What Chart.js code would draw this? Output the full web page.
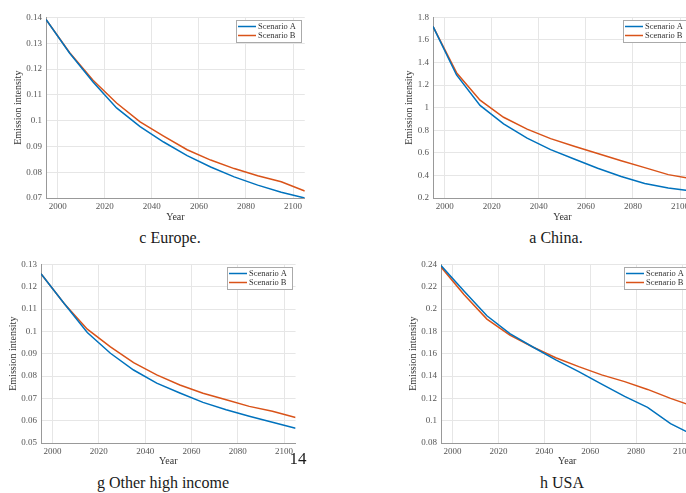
<!DOCTYPE html>
<html>
<head>
<meta charset="utf-8">
<script src="https://cdn.jsdelivr.net/npm/chart.js@4/dist/chart.umd.min.js"></script>
<style>
  html, body { margin: 0; padding: 0; background: #fff; }
  body { width: 686px; height: 493px; overflow: hidden; position: relative; }
  canvas { position: absolute; }
  .cap { position: absolute; font-family: "Liberation Serif", serif; font-size: 16px; color: #1a1a1a;
         transform: translate(-50%, -50%); white-space: nowrap; }
</style>
</head>
<body>
<canvas id="europe"></canvas>
<canvas id="china"></canvas>
<canvas id="other"></canvas>
<canvas id="usa"></canvas>
<div class="cap" style="left:170px;top:238px">c Europe.</div>
<div class="cap" style="left:556px;top:238px">a China.</div>
<div class="cap" style="left:163px;top:483px">g Other high income</div>
<div class="cap" style="left:562px;top:483px">h USA</div>
<div class="cap" style="left:298px;top:459px;font-size:17px">14</div>
<script>
/* data */
const years = [1995, 2005, 2015, 2025, 2035, 2045, 2055, 2065, 2075, 2085, 2095, 2105];
const seriesNames = ['Scenario A', 'Scenario B'];
const yearTicks = [2000, 2020, 2040, 2060, 2080, 2100];

const europeA = [0.1392, 0.1262, 0.1150, 0.1049, 0.0977, 0.0917, 0.0864, 0.0820, 0.0782, 0.0750, 0.0722, 0.0700];
const europeB = [0.1392, 0.1264, 0.1156, 0.1068, 0.0995, 0.0940, 0.0887, 0.0847, 0.0814, 0.0786, 0.0763, 0.0727];
const europeTicks = [0.07, 0.08, 0.09, 0.10, 0.11, 0.12, 0.13, 0.14];

const chinaA = [1.72, 1.29, 1.02, 0.857, 0.731, 0.629, 0.545, 0.463, 0.39, 0.329, 0.288, 0.262];
const chinaB = [1.72, 1.31, 1.067, 0.915, 0.81, 0.726, 0.658, 0.594, 0.53, 0.469, 0.407, 0.37];
const chinaTicks = [0.2, 0.4, 0.6, 0.8, 1.0, 1.2, 1.4, 1.6, 1.8];

const otherA = [0.1258, 0.1125, 0.0995, 0.0902, 0.0827, 0.0768, 0.0724, 0.0682, 0.0649, 0.0620, 0.0593, 0.0566];
const otherB = [0.1258, 0.1125, 0.1010, 0.0931, 0.0860, 0.0805, 0.0760, 0.0723, 0.0694, 0.0664, 0.0642, 0.0614];
const otherTicks = [0.05, 0.06, 0.07, 0.08, 0.09, 0.10, 0.11, 0.12, 0.13];

const usaA = [0.2390, 0.2162, 0.1940, 0.1780, 0.1660, 0.1544, 0.1440, 0.1327, 0.1217, 0.1120, 0.0973, 0.0870];
const usaB = [0.2377, 0.2130, 0.1910, 0.1766, 0.1660, 0.1564, 0.1484, 0.1410, 0.1350, 0.1280, 0.1200, 0.1128];
const usaTicks = [0.08, 0.10, 0.12, 0.14, 0.16, 0.18, 0.20, 0.22, 0.24];

const colA = '#0072BD', colB = '#D95319';
const serif = '"Liberation Serif", serif';

/* legend box in the top right corner of the plot */
const boxLegend = {
  id: 'boxLegend',
  afterDatasetsDraw(chart) {
    const { ctx, chartArea } = chart;
    const w = 65, h = 22;
    const x = Math.round(chartArea.right - 4 - w), y = Math.round(chartArea.top + 3);
    ctx.save();
    ctx.fillStyle = '#fff';
    ctx.fillRect(x, y, w, h);
    ctx.strokeStyle = '#aaa';
    ctx.lineWidth = 1;
    ctx.strokeRect(x + 0.5, y + 0.5, w, h);
    chart.data.datasets.forEach((ds, i) => {
      const ly = y + 6.5 + i * 9;
      ctx.strokeStyle = ds.borderColor;
      ctx.lineWidth = 1.5;
      ctx.beginPath(); ctx.moveTo(x + 2, ly); ctx.lineTo(x + 20, ly); ctx.stroke();
      ctx.fillStyle = '#333';
      ctx.font = '8.5px ' + serif;
      ctx.textBaseline = 'middle';
      ctx.fillText(ds.label, x + 22, ly + 0.5);
    });
    ctx.restore();
  }
};

function fmt(v) { return String(Number(v.toFixed(3))); }

function makePanel(id, p) {
  const cv = document.getElementById(id);
  const padTop = 8, xH = 28;
  cv.width = p.R - p.left;
  cv.height = padTop + (p.B - p.T) + xH;
  cv.style.left = p.left + 'px';
  cv.style.top = (p.T - padTop) + 'px';
  new Chart(cv, {
    type: 'line',
    data: {
      datasets: [
        { label: seriesNames[0], data: years.map((x, i) => ({ x, y: p.a[i] })), borderColor: colA },
        { label: seriesNames[1], data: years.map((x, i) => ({ x, y: p.b[i] })), borderColor: colB }
      ]
    },
    options: {
      responsive: false,
      animation: false,
      layout: { padding: { top: padTop, right: 0, bottom: 0, left: 0 } },
      elements: { line: { borderWidth: 1.5, tension: 0 }, point: { radius: 0 } },
      plugins: { legend: { display: false }, tooltip: { enabled: false } },
      scales: {
        x: {
          type: 'linear', min: 1995, max: 2105,
          afterBuildTicks: s => { s.ticks = yearTicks.map(v => ({ value: v })); },
          afterFit: s => { s.height = xH; },
          grid: { color: '#e6e6e6', drawTicks: false },
          border: { color: '#999' },
          ticks: { padding: 3, color: '#555', font: { family: serif, size: 9 }, callback: v => String(v), maxRotation: 0 },
          title: { display: true, text: 'Year', color: '#333', font: { family: serif, size: 10 },
                   padding: { top: 0, bottom: p.B + xH - 6 - p.year } }
        },
        y: {
          min: p.ticks[0], max: p.ticks[p.ticks.length - 1],
          afterBuildTicks: s => { s.ticks = p.ticks.map(v => ({ value: v })); },
          afterFit: s => { s.width = p.L - p.left; },
          grid: { color: '#e6e6e6', drawTicks: false },
          border: { color: '#999' },
          ticks: { padding: 4, color: '#555', font: { family: serif, size: 9 }, callback: v => fmt(v) },
          title: { display: true, text: 'Emission intensity', color: '#333', font: { family: serif, size: 10 },
                   padding: { top: p.ytitle - p.left - 6, bottom: 0 } }
        }
      }
    },
    plugins: [boxLegend]
  });
}

makePanel('europe', { left: 0, L: 46, R: 305, T: 16, B: 198, ytitle: 18, year: 217, a: europeA, b: europeB, ticks: europeTicks });
makePanel('china', { left: 391, L: 433, R: 692, T: 16, B: 198, ytitle: 409, year: 217, a: chinaA, b: chinaB, ticks: chinaTicks });
makePanel('other', { left: 0, L: 41, R: 296, T: 263, B: 443, ytitle: 13, year: 461, a: otherA, b: otherB, ticks: otherTicks });
makePanel('usa', { left: 395, L: 441, R: 694, T: 263, B: 443, ytitle: 413, year: 461, a: usaA, b: usaB, ticks: usaTicks });
</script>
</body>
</html>
